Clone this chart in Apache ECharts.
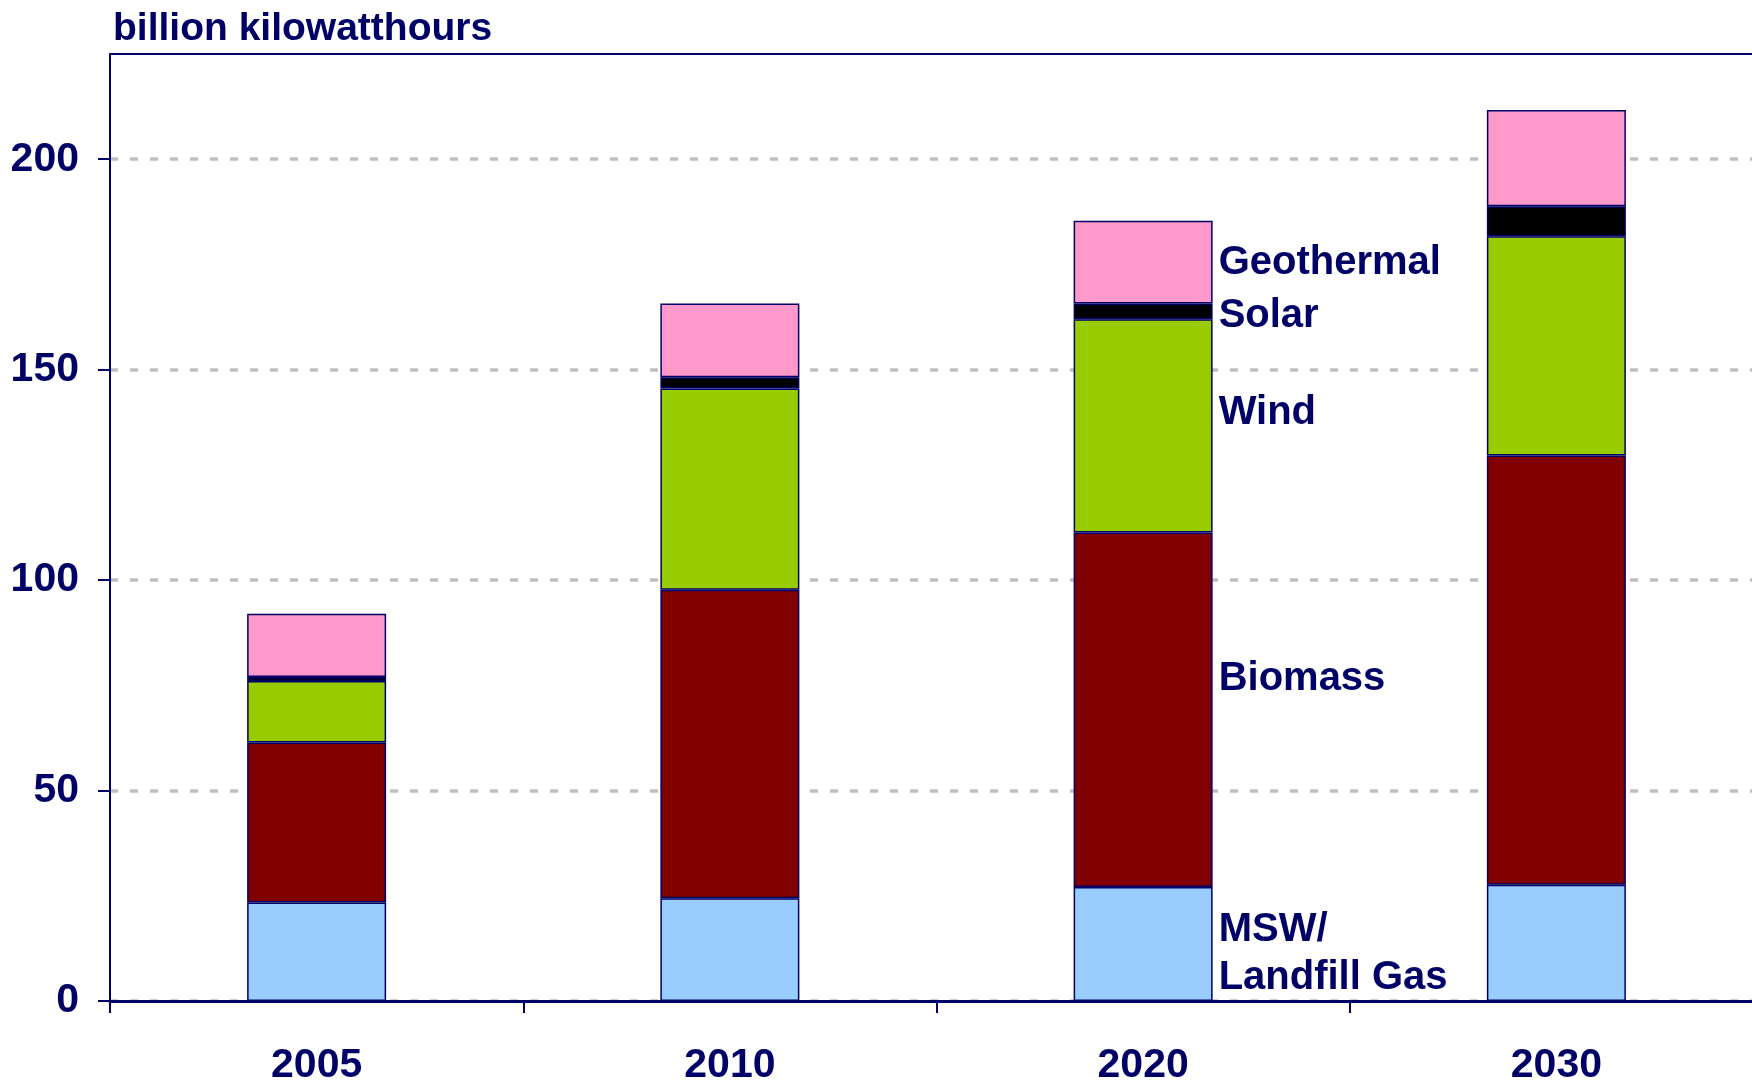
<!DOCTYPE html>
<html>
<head>
<meta charset="utf-8">
<script src="https://cdn.jsdelivr.net/npm/echarts@6/dist/echarts.min.js"></script>
<style>
  html, body { margin: 0; padding: 0; background: #ffffff; }
  #chart { width: 1752px; height: 1081px; }
</style>
</head>
<body>
<div id="chart"></div>
<script>
// ---- data ----
const categories = ['2005', '2010', '2020', '2030'];
const mswLandfill = [23.4, 24.4, 27.1, 27.6];
const biomass     = [38.0, 73.3, 84.2, 102.0];
const wind        = [14.6, 47.8, 50.7, 52.1];
const solar       = [1.0, 2.7, 3.7, 7.1];
const geothermal  = [15.0, 17.5, 19.7, 22.9];
const yTicks = [0, 50, 100, 150, 200];
const seriesNames = ['MSW/\nLandfill Gas', 'Biomass', 'Wind', 'Solar', 'Geothermal'];
const labelCategory = '2020';

const NAVY = '#000066';
const FONT = "'Liberation Sans', Arial, Helvetica, sans-serif";
const labelIdx = categories.indexOf(labelCategory);

function makeSeries(name, values, color, offsetY) {
  return {
    name: name,
    type: 'bar',
    stack: 'total',
    barWidth: 139,
    itemStyle: { color: color, borderColor: NAVY, borderWidth: 1.5 },
    label: {
      position: 'right',
      distance: 6,
      offset: [0, offsetY],
      formatter: '{a}',
      color: NAVY,
      fontFamily: FONT,
      fontWeight: 'bold',
      fontSize: 40,
      lineHeight: 48
    },
    emphasis: { disabled: true },
    data: values.map((v, i) => i === labelIdx ? { value: v, label: { show: true } } : v)
  };
}

const chart = echarts.init(document.getElementById('chart'), null, { renderer: 'canvas' });
chart.setOption({
  animation: false,
  backgroundColor: '#ffffff',
  title: {
    text: 'billion kilowatthours',
    left: 108,
    top: 5,
    textStyle: { color: NAVY, fontFamily: FONT, fontWeight: 'bold', fontSize: 39 }
  },
  grid: { left: 110, top: 54, bottom: 80, right: -11, containLabel: false, outerBoundsMode: 'none' },
  xAxis: [{
    type: 'category',
    data: categories,
    boundaryGap: true,
    axisLine: { show: true, lineStyle: { color: NAVY, width: 3 } },
    axisTick: { show: true, alignWithLabel: false, length: 12, lineStyle: { color: NAVY, width: 2 } },
    axisLabel: { color: NAVY, fontFamily: FONT, fontWeight: 'bold', fontSize: 41, margin: 44 },
    splitLine: { show: false }
  }, {
    type: 'category',
    position: 'top',
    data: categories,
    axisLine: { show: true, lineStyle: { color: NAVY, width: 2 } },
    axisTick: { show: false },
    axisLabel: { show: false },
    splitLine: { show: false }
  }],
  yAxis: {
    type: 'value',
    min: 0,
    max: 225,
    interval: 50,
    axisLine: { show: true, lineStyle: { color: NAVY, width: 2 } },
    axisTick: { show: true, length: 12, lineStyle: { color: NAVY, width: 2 }, customValues: yTicks },
    axisLabel: { color: NAVY, fontFamily: FONT, fontWeight: 'bold', fontSize: 41, margin: 31, customValues: yTicks },
    splitLine: { show: true, lineStyle: { color: '#C0C0C0', width: 3.5, type: [8, 12] } }
  },
  series: [
    makeSeries(seriesNames[0], mswLandfill, '#99CCFF', 10),
    makeSeries(seriesNames[1], biomass, '#800000', -31),
    makeSeries(seriesNames[2], wind, '#99CC00', -13),
    makeSeries(seriesNames[3], solar, '#000000', 5),
    makeSeries(seriesNames[4], geothermal, '#FF99CC', 1)
  ]
});
</script>
</body>
</html>
